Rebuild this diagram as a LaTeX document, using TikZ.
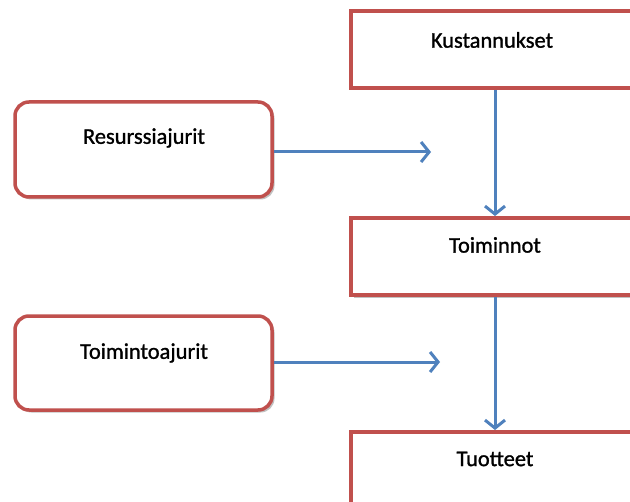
\documentclass[tikz,border=0pt]{standalone}
\usepackage{fontspec}
\setmainfont{Carlito}
\newfontfamily\lblfont[FakeBold=1.2]{Carlito}
\usetikzlibrary{arrows.meta,shadows}
\definecolor{boxred}{HTML}{C0504D}
\definecolor{arrblue}{HTML}{4F81BD}
\tikzset{
  sqbox/.style={draw=boxred, line width=3.5bp, fill=white, drop shadow={shadow xshift=2.5bp, shadow yshift=-2.5bp, fill=black!40, opacity=0.6}},
  rdbox/.style={sqbox, rounded corners=14bp},
  lbl/.style={font=\lblfont\fontsize{22.5}{26}\selectfont, text=black},
  conn/.style={draw=arrblue, line width=3bp, -{Straight Barb[length=8bp, width=20bp, line width=3bp]}}
}
\begin{document}
\begin{tikzpicture}[x=1bp, y=-1bp]
\clip (0,0) rectangle (630,502);
\fill[white] (0,0) rectangle (630,502);
% right boxes (cut off at the right edge)
\path[sqbox] (351,11) rectangle (660,88);
\node[lbl] (kust) at (492,40) {Kustannukset};
\path[sqbox] (351,218) rectangle (660,295);
\node[lbl] (toim) at (495,245) {Toiminnot};
\path[sqbox] (351,432) rectangle (660,530);
\node[lbl] (tuot) at (495,459) {Tuotteet};
\coordinate (kustB) at (495,90);
\coordinate (toimT) at (495,216);
\coordinate (toimB) at (495,297);
\coordinate (tuotT) at (495,430);
% left rounded boxes
\path[rdbox] (15,102) rectangle (272,197);
\node[lbl] (res) at (144,138) {Resurssiajurit};
\path[rdbox] (15,316) rectangle (272,410);
\node[lbl] (taj) at (144,353) {Toimintoajurit};
\coordinate (resR) at (274,152);
\coordinate (resE) at (431,152);
\coordinate (tajR) at (274,362);
\coordinate (tajE) at (440,362);
% connectors
\draw[conn] (resR) -- (resE);
\draw[conn] (tajR) -- (tajE);
\draw[conn] (kustB) -- (toimT);
\draw[conn] (toimB) -- (tuotT);
\end{tikzpicture}
\end{document}
